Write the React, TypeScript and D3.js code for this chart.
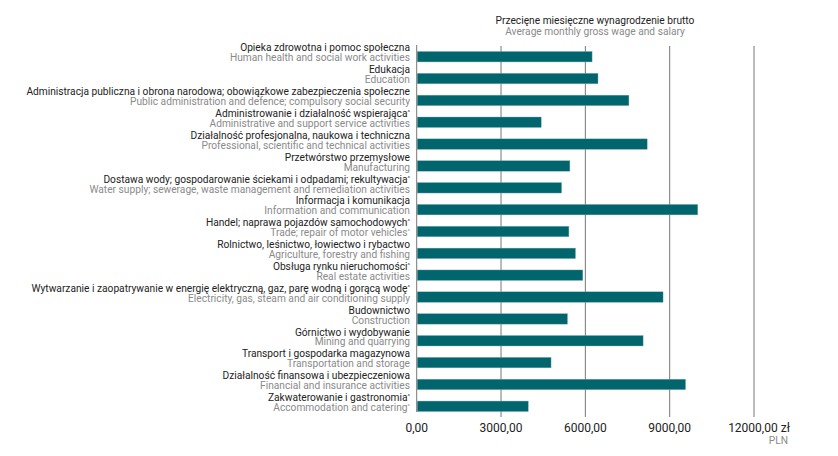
import { useRef, useEffect } from 'react';
import * as d3 from 'd3';

// Polish section names ("^" at the end marks a superscript caret)
const namesPl = [
  'Opieka zdrowotna i pomoc społeczna',
  'Edukacja',
  'Administracja publiczna i obrona narodowa; obowiązkowe zabezpieczenia społeczne',
  'Administrowanie i działalność wspierająca^',
  'Działalność profesjonalna, naukowa i techniczna',
  'Przetwórstwo przemysłowe',
  'Dostawa wody; gospodarowanie ściekami i odpadami; rekultywacja^',
  'Informacja i komunikacja',
  'Handel; naprawa pojazdów samochodowych^',
  'Rolnictwo, leśnictwo, łowiectwo i rybactwo',
  'Obsługa rynku nieruchomości^',
  'Wytwarzanie i zaopatrywanie w energię elektryczną, gaz, parę wodną i gorącą wodę^',
  'Budownictwo',
  'Górnictwo i wydobywanie',
  'Transport i gospodarka magazynowa',
  'Działalność finansowa i ubezpieczeniowa',
  'Zakwaterowanie i gastronomia^',
];

const namesEn = [
  'Human health and social work activities',
  'Education',
  'Public administration and defence; compulsory social security',
  'Administrative and support service activities',
  'Professional, scientific and technical activities',
  'Manufacturing',
  'Water supply; sewerage, waste management and remediation activities',
  'Information and communication',
  'Trade; repair of motor vehicles^',
  'Agriculture, forestry and fishing',
  'Real estate activities',
  'Electricity, gas, steam and air conditioning supply',
  'Construction',
  'Mining and quarrying',
  'Transportation and storage',
  'Financial and insurance activities',
  'Accommodation and catering^',
];

// average monthly gross wage, PLN
const wages = [
  6240, 6450, 7550, 4430, 8200, 5450, 5155, 10000, 5415,
  5650, 5910, 8765, 5365, 8055, 4780, 9565, 3970,
];

const xTicks = [0, 3000, 6000, 9000, 12000];

const titlePl = 'Przecięne miesięczne wynagrodzenie brutto';
const titleEn = 'Average monthly gross wage and salary';

const W = 838;
const H = 456;
const FONT = 'Roboto, "Open Sans", sans-serif';
const LABEL_SIZE = '10.2px';

export default function App() {
  const svgRef = useRef<SVGSVGElement | null>(null);

  useEffect(() => {
    const svg = d3.select(svgRef.current);
    svg.selectAll('*').remove();

    const x = d3.scaleLinear().domain([0, 12000]).range([416.7, 754]);
    const y = d3
      .scaleBand<number>()
      .domain(d3.range(wages.length))
      .range([46, 417])
      .paddingInner(0.52)
      .paddingOuter(0.25);

    // grid lines
    svg
      .append('g')
      .selectAll('line')
      .data(xTicks.slice(1))
      .join('line')
      .attr('x1', (d) => x(d))
      .attr('x2', (d) => x(d))
      .attr('y1', 46)
      .attr('y2', 417)
      .attr('stroke', '#777')
      .attr('stroke-width', 1);

    // zero line
    svg
      .append('line')
      .attr('x1', x(0))
      .attr('x2', x(0))
      .attr('y1', 45)
      .attr('y2', 412)
      .attr('stroke', '#777');

    // bars
    svg
      .append('g')
      .selectAll('rect')
      .data(wages)
      .join('rect')
      .attr('x', x(0) + 0.5)
      .attr('y', (_, i) => y(i)!)
      .attr('width', (d) => x(d) - x(0) - 0.5)
      .attr('height', y.bandwidth())
      .attr('fill', '#00656d')
      .attr('stroke', '#7fb2b6')
      .attr('stroke-width', 0.4);

    // category labels
    const addLabel = (
      g: d3.Selection<SVGGElement, unknown, null, undefined>,
      txt: string,
      yy: number,
      color: string,
    ) => {
      const caret = txt.endsWith('^');
      const t = g
        .append('text')
        .attr('x', 410)
        .attr('y', yy)
        .attr('text-anchor', 'end')
        .attr('fill', color)
        .style('font-size', LABEL_SIZE)
        .text(caret ? txt.slice(0, -1) : txt);
      if (caret) {
        t.append('tspan')
          .attr('dy', -3)
          .style('font-size', '6px')
          .text('^');
      }
    };

    const labels = svg.append('g').style('font-family', FONT);
    wages.forEach((_, i) => {
      const top = y(i)!;
      addLabel(labels, namesPl[i], top, '#222');
      addLabel(labels, namesEn[i], top + y.bandwidth() - 0.5, '#8a8a8a');
    });

    // x axis labels
    const axis = svg.append('g').style('font-family', FONT);
    axis
      .selectAll('text')
      .data(xTicks)
      .join('text')
      .attr('x', (d) => x(d))
      .attr('dx', (d) => (d === 12000 ? 5 : 0))
      .attr('y', 432)
      .attr('text-anchor', 'middle')
      .attr('fill', '#222')
      .style('font-size', '12px')
      .text((d) => d3.format('.2f')(d).replace('.', ',') + (d === 12000 ? ' zł' : ''));

    axis
      .append('text')
      .attr('x', 788)
      .attr('y', 444)
      .attr('text-anchor', 'end')
      .attr('fill', '#8a8a8a')
      .style('font-size', LABEL_SIZE)
      .text('PLN');

    // title
    const title = svg.append('g').style('font-family', FONT).attr('text-anchor', 'middle');
    title
      .append('text')
      .attr('x', 595)
      .attr('y', 24)
      .attr('fill', '#222')
      .style('font-size', LABEL_SIZE)
      .text(titlePl);
    title
      .append('text')
      .attr('x', 595)
      .attr('y', 35)
      .attr('fill', '#8a8a8a')
      .style('font-size', LABEL_SIZE)
      .text(titleEn);
  }, []);

  return (
    <svg
      ref={svgRef}
      width={W}
      height={H}
      style={{ position: 'absolute', left: 0, top: 0, background: '#fff' }}
    />
  );
}
